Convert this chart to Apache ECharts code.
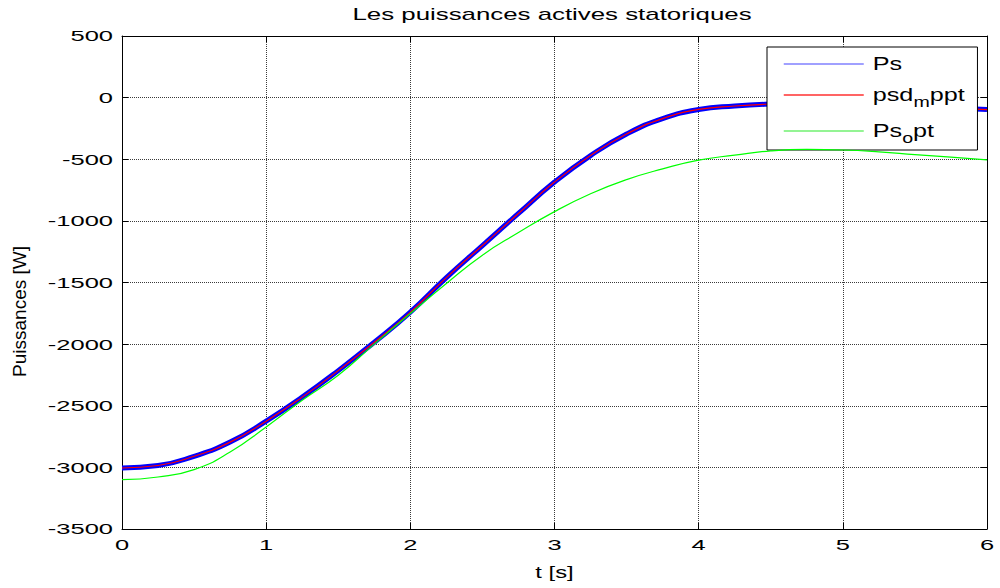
<!DOCTYPE html>
<html>
<head>
<meta charset="utf-8">
<script src="https://cdn.jsdelivr.net/npm/echarts@6/dist/echarts.min.js"></script>
<style>
html,body{margin:0;padding:0;background:#fff;}
#chart{width:1000px;height:588px;}
</style>
</head>
<body>
<div id="chart"></div>
<script>
// ---- texts ----
const titleText = 'Les puissances actives statoriques';
const xAxisName = 't [s]';
const yAxisName = 'Puissances [W]';
const seriesNames = ['Ps', 'psd_mppt', 'Ps_opt'];

// ---- axis ranges ----
const xMin = 0, xMax = 6, xStep = 1;
const yMin = -3500, yMax = 500, yStep = 500;

// ---- data ----
const tValues = [0, 0.25, 0.5, 0.75, 1, 1.25, 1.5, 1.75, 2, 2.25, 2.5, 2.75, 3,
                 3.25, 3.5, 3.75, 4, 4.25, 4.5, 4.75, 5, 5.25, 5.5, 5.75, 6];
const psValues = [-3005, -2985, -2910, -2795, -2625, -2430, -2215, -1985, -1740, -1460, -1200, -940, -685,
                  -470, -295, -170, -96, -68, -52, -45, -48, -58, -72, -85, -97];
const psdMpptValues = [-3005, -2985, -2910, -2795, -2625, -2430, -2215, -1985, -1740, -1460, -1200, -940, -685,
                       -470, -295, -170, -96, -68, -52, -45, -48, -58, -72, -85, -97];
const psOptValues = [-3100, -3078, -3018, -2875, -2672, -2455, -2252, -2000, -1752, -1508, -1278, -1095, -925,
                     -780, -665, -578, -507, -467, -432, -420, -425, -440, -462, -483, -505];

const FONT = 'Liberation Sans, Arial, Helvetica, sans-serif';
const pair = arr => tValues.map((t, i) => [t, arr[i]]);

const chart = echarts.init(document.getElementById('chart'), null, {renderer: 'svg'});

const gridLine = {show: true, lineStyle: {color: '#3a3a3a', width: 1, type: [1, 1]}};
const axisLineBlack = {show: true, onZero: false, lineStyle: {color: '#000', width: 1}};
const tickInside = {show: true, inside: true, length: 6, lineStyle: {color: '#000'}};
const plainNum = v => String(v);
const hiddenSymbol = {opacity: 0, color: 'rgba(0,0,0,0)', borderWidth: 0};

const option = {
  animation: false,
  backgroundColor: '#fff',
  title: {
    text: titleText,
    left: 552,
    top: 6,
    padding: 0,
    textAlign: 'center',
    textStyle: {fontFamily: FONT, fontSize: 17, fontWeight: 'normal', color: '#000'}
  },
  grid: {left: 122, right: 13, top: 36, bottom: 59, containLabel: false},
  legend: {
    orient: 'vertical',
    left: 767,
    top: 47,
    itemWidth: 80,
    itemHeight: 14,
    itemGap: 8,
    padding: [8, 39, 5, 16],
    backgroundColor: '#fff',
    borderColor: '#000',
    borderWidth: 1,
    selectedMode: false,
    data: [
      {name: 'Ps', itemStyle: hiddenSymbol, lineStyle: {color: '#8080ff', width: 1.5}},
      {name: 'psd_mppt', itemStyle: hiddenSymbol, lineStyle: {color: '#ff3030', width: 1.5}},
      {name: 'Ps_opt', itemStyle: hiddenSymbol, lineStyle: {color: '#70f070', width: 1.5}}
    ],
    formatter: function (name) {
      if (name === 'psd_mppt') return '{n|psd}{s|m}{n|ppt}';
      if (name === 'Ps_opt') return '{n|Ps}{s|o}{n|pt}';
      return '{n|' + name + '}';
    },
    textStyle: {
      padding: [0, 0, 0, 4],
      rich: {
        n: {fontFamily: FONT, fontSize: 18, lineHeight: 28, color: '#000'},
        s: {fontFamily: FONT, fontSize: 14, lineHeight: 14, padding: [14, 0, 0, 0], color: '#000'}
      }
    }
  },
  xAxis: [
    {
      type: 'value', min: xMin, max: xMax, interval: xStep, position: 'bottom',
      name: xAxisName, nameLocation: 'middle', nameGap: 34,
      nameTextStyle: {fontFamily: FONT, fontSize: 17, color: '#000'},
      axisLine: axisLineBlack, axisTick: tickInside,
      axisLabel: {fontFamily: FONT, fontSize: 15, color: '#000', margin: 8, formatter: plainNum},
      splitLine: gridLine
    },
    {
      type: 'value', min: xMin, max: xMax, interval: xStep, position: 'top',
      axisLine: axisLineBlack, axisTick: tickInside,
      axisLabel: {show: false}, splitLine: {show: false}
    }
  ],
  yAxis: [
    {
      type: 'value', min: yMin, max: yMax, interval: yStep, position: 'left',
      name: yAxisName, nameLocation: 'middle', nameGap: 93,
      nameTextStyle: {fontFamily: FONT, fontSize: 19, color: '#000', padding: [0, 58, 0, 0]},
      axisLine: axisLineBlack, axisTick: tickInside,
      axisLabel: {fontFamily: FONT, fontSize: 15, color: '#000', margin: 9, formatter: plainNum},
      splitLine: gridLine
    },
    {
      type: 'value', min: yMin, max: yMax, interval: yStep, position: 'right',
      axisLine: axisLineBlack, axisTick: tickInside,
      axisLabel: {show: false}, splitLine: {show: false}
    }
  ],
  series: [
    {
      name: seriesNames[0], type: 'line', data: pair(psValues), symbol: 'none',
      smooth: 0.5,
      lineStyle: {color: '#0000ff', width: 5}, itemStyle: {color: '#0000ff'}, z: 2
    },
    {
      name: seriesNames[1], type: 'line', data: pair(psdMpptValues), symbol: 'none',
      smooth: 0.5,
      lineStyle: {color: '#ff0000', width: 1.2}, itemStyle: {color: '#ff0000'}, z: 3
    },
    {
      name: seriesNames[2], type: 'line', data: pair(psOptValues), symbol: 'none',
      smooth: 0.5,
      lineStyle: {color: '#00ff00', width: 1.2}, itemStyle: {color: '#00ff00'}, z: 4
    }
  ]
};
chart.setOption(option);

// Horizontal stretch of the wide-looking reference lettering
const TICK_SX = 1.7, TITLE_SX = 1.52, LEGEND_SX = 1.4, XNAME_SX = 1.4;
const legendTokens = ['Ps', 'psd', 'm', 'ppt', 'o', 'pt'];
function stretchTexts() {
  const svg = document.querySelector('#chart svg');
  if (!svg) return;
  const texts = Array.from(svg.querySelectorAll('text'));
  const info = texts.map(t => {
    const tb = t.transform && t.transform.baseVal;
    const c = tb && tb.numberOfItems ? tb.consolidate().matrix : null;
    const m = c ? {a: c.a, b: c.b, c: c.c, d: c.d, e: c.e, f: c.f} : {a: 1, b: 0, c: 0, d: 1, e: 0, f: 0};
    const lx = t.x.baseVal.numberOfItems ? t.x.baseVal.getItem(0).value : 0;
    const ly = t.y.baseVal.numberOfItems ? t.y.baseVal.getItem(0).value : 0;
    return {el: t, m: m, ax: m.a * lx + m.c * ly + m.e, txt: t.textContent};
  });
  const legendInfo = info.filter(i => legendTokens.indexOf(i.txt) >= 0 && isFinite(i.ax));
  const legendOx = legendInfo.length ? Math.min.apply(null, legendInfo.map(i => i.ax)) : 0;
  info.forEach(i => {
    if (i.el.getAttribute('data-sx')) return;
    if (!isFinite(i.ax)) return;
    let s = 1, ox = i.ax;
    if (i.txt === titleText) s = TITLE_SX;
    else if (i.txt === xAxisName) s = XNAME_SX;
    else if (/^-?\d+$/.test(i.txt)) s = TICK_SX;
    else if (legendTokens.indexOf(i.txt) >= 0) { s = LEGEND_SX; ox = legendOx; }
    if (s === 1) return;
    const m = i.m;
    const n = [s * m.a, m.b, s * m.c, m.d, s * m.e + ox * (1 - s), m.f];
    i.el.setAttribute('transform', 'matrix(' + n.join(' ') + ')');
    i.el.setAttribute('data-sx', '1');
  });
}
stretchTexts();
chart.on('finished', stretchTexts);
setTimeout(stretchTexts, 0);
</script>
</body>
</html>
